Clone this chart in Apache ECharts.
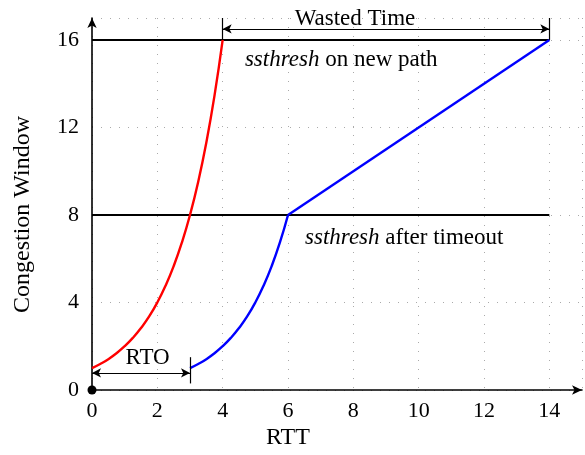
<!DOCTYPE html>
<html>
<head>
<meta charset="utf-8">
<script src="https://cdn.jsdelivr.net/npm/echarts@6/dist/echarts.min.js"></script>
<style>
  html, body { margin: 0; padding: 0; background: #fff; }
  #chart { width: 585px; height: 455px; }
</style>
</head>
<body>
<div id="chart"></div>
<script>
// slow start on the new path (red)
const redRtt  = [0, 0.25, 0.5, 0.75, 1, 1.25, 1.5, 1.75, 2, 2.25, 2.5, 2.75, 3, 3.25, 3.5, 3.75, 4];
const redCwnd = [1, 1.19, 1.41, 1.68, 2, 2.38, 2.83, 3.36, 4, 4.76, 5.66, 6.73, 8, 9.51, 11.31, 13.45, 16];

// after the timeout (blue): slow start up to 8, then linear growth
const blueRtt  = [3, 3.25, 3.5, 3.75, 4, 4.25, 4.5, 4.75, 5, 5.25, 5.5, 5.75, 6];
const blueCwnd = [1, 1.19, 1.41, 1.68, 2, 2.38, 2.83, 3.36, 4, 4.76, 5.66, 6.73, 8];
const avoidRtt  = [6, 14];
const avoidCwnd = [8, 16];

// ssthresh levels
const ssthreshNew = 16;
const ssthreshTimeout = 8;
const threshRtt = [0, 14];

// annotation spans
const wastedSpan = [4, 14];
const rtoSpan = [0, 3];

const xTicks = ['0', '2', '4', '6', '8', '10', '12', '14'];
const yTicks = ['0', '4', '8', '12', '16'];

const serif = 'Liberation Serif, Times New Roman, serif';
const zip = (xs, ys) => xs.map((x, i) => [x, ys[i]]);

const chart = echarts.init(document.getElementById('chart'));

const noSymbolLine = (data, color, width, smooth) => ({
  type: 'line',
  data: data,
  smooth: smooth,
  showSymbol: false,
  symbol: 'none',
  silent: true,
  lineStyle: { color: color, width: width },
  z: 3
});

const option = {
  animation: false,
  grid: { left: 92, right: 3, top: 18, bottom: 65 },
  xAxis: {
    type: 'value',
    min: 0,
    max: 15,
    interval: 2,
    axisLine: {
      lineStyle: { color: '#000', width: 1.6 },
      symbol: ['none', 'arrow'],
      symbolSize: [7, 10]
    },
    axisTick: { show: false },
    axisLabel: {
      color: '#000', fontFamily: serif, fontSize: 22, margin: 10,
      formatter: v => xTicks.includes(String(v)) ? String(v) : ''
    },
    splitLine: { show: true, lineStyle: { color: '#aaa', width: 1, type: [1, 8] } }
  },
  yAxis: {
    type: 'value',
    min: 0,
    max: 17,
    interval: 4,
    axisLine: {
      show: true,
      lineStyle: { color: '#000', width: 1.6 },
      symbol: ['none', 'arrow'],
      symbolSize: [7, 10]
    },
    axisTick: { show: false },
    axisLabel: {
      color: '#000', fontFamily: serif, fontSize: 22, margin: 13,
      formatter: v => yTicks.includes(String(v)) ? String(v) : ''
    },
    splitLine: { show: true, lineStyle: { color: '#aaa', width: 1, type: [1, 8] } }
  },
  graphic: [
    {
      type: 'text', left: 266, top: 426,
      style: { text: 'RTT', font: '24px ' + serif, fill: '#000' }
    },
    {
      type: 'text', x: 11, y: 313, rotation: Math.PI / 2,
      style: { text: 'Congestion Window', font: '24px ' + serif, fill: '#000' }
    }
  ],
  series: [
    noSymbolLine(threshRtt.map(x => [x, ssthreshNew]), '#000', 2, false),
    noSymbolLine(threshRtt.map(x => [x, ssthreshTimeout]), '#000', 2, false),
    noSymbolLine(zip(redRtt, redCwnd), '#ff0000', 2.4, 0.5),
    noSymbolLine(zip(blueRtt, blueCwnd), '#0000ff', 2.4, 0.5),
    noSymbolLine(zip(avoidRtt, avoidCwnd), '#0000ff', 2.4, false),
    {
      // arrows and brackets
      type: 'line',
      data: [],
      silent: true,
      markLine: {
        silent: true,
        animation: false,
        label: { show: false },
        lineStyle: { color: '#000', width: 1.2, type: 'solid' },
        symbolSize: [7, 9],
        data: [
          [{ coord: [wastedSpan[0], 16.5], symbol: 'arrow' }, { coord: [wastedSpan[1], 16.5], symbol: 'arrow' }],
          [{ coord: [wastedSpan[0], 16], symbol: 'none' }, { coord: [wastedSpan[0], 17], symbol: 'none' }],
          [{ coord: [wastedSpan[1], 16], symbol: 'none' }, { coord: [wastedSpan[1], 17], symbol: 'none' }],
          [{ coord: [rtoSpan[0], 0.78], symbol: 'arrow' }, { coord: [rtoSpan[1], 0.78], symbol: 'arrow' }],
          [{ coord: [rtoSpan[1], 0.3], symbol: 'none' }, { coord: [rtoSpan[1], 1.5], symbol: 'none' }]
        ]
      }
    },
    {
      // text annotations
      type: 'scatter',
      symbolSize: 0,
      silent: true,
      itemStyle: { opacity: 1 },
      data: [
        { value: [8.05, 16.95], label: { formatter: 'Wasted Time', align: 'center' } },
        { value: [1.7, 1.45], label: { formatter: 'RTO', align: 'center' } },
        { value: [4.68, 15.1], label: { formatter: '{i|ssthresh} on new path', align: 'left' } },
        { value: [6.52, 6.95], label: { formatter: '{i|ssthresh} after timeout', align: 'left' } }
      ],
      label: {
        show: true,
        position: 'inside',
        color: '#000',
        opacity: 1,
        textBorderWidth: 0,
        fontFamily: serif,
        fontSize: 23,
        verticalAlign: 'middle',
        rich: {
          i: { fontStyle: 'italic', fontFamily: serif, fontSize: 23, color: '#000', textBorderWidth: 0 }
        }
      },
      z: 5
    },
    {
      // origin dot
      type: 'scatter',
      data: [[0, 0]],
      symbol: 'circle',
      symbolSize: 9,
      silent: true,
      itemStyle: { color: '#000', opacity: 1 },
      z: 6
    }
  ]
};

chart.setOption(option);
</script>
</body>
</html>
